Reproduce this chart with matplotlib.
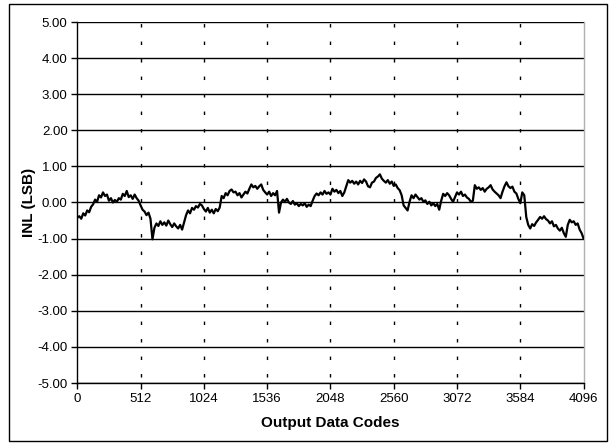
import numpy as np
import matplotlib
matplotlib.use("Agg")
import matplotlib.pyplot as plt
from matplotlib.patches import Rectangle

plt.rcParams['font.family'] = ['Liberation Sans', 'DejaVu Sans']

# Output data codes are sampled every 16 codes (0..4096)
code_step = 16
inl = [
    # 0 - 496
    -0.42, -0.38, -0.45, -0.30, -0.36, -0.22, -0.27, -0.12, -0.05, 0.08, 0.02, 0.20, 0.14, 0.28, 0.18, 0.22,
    0.05, 0.12, 0.00, 0.07, 0.02, 0.12, 0.08, 0.24, 0.18, 0.32, 0.15, 0.20, 0.10, 0.22, 0.12, 0.05,
    # 512 - 1008
    -0.08, -0.20, -0.25, -0.35, -0.28, -0.45, -1.02, -0.70, -0.58, -0.65, -0.52, -0.62, -0.55, -0.64, -0.50, -0.60,
    -0.68, -0.58, -0.66, -0.72, -0.62, -0.75, -0.55, -0.35, -0.22, -0.30, -0.15, -0.20, -0.10, -0.14, -0.04, -0.08,
    # 1024 - 1520
    -0.18, -0.25, -0.15, -0.28, -0.20, -0.30, -0.18, -0.24, -0.14, 0.18, 0.12, 0.26, 0.20, 0.32, 0.36, 0.28,
    0.30, 0.20, 0.26, 0.14, 0.22, 0.30, 0.25, 0.38, 0.50, 0.42, 0.46, 0.38, 0.45, 0.50, 0.35, 0.28,
    # 1536 - 2032
    0.22, 0.30, 0.18, 0.26, 0.20, 0.32, -0.28, 0.00, 0.08, 0.02, 0.10, 0.00, -0.04, 0.04, -0.06, -0.02,
    -0.10, -0.04, -0.08, -0.02, -0.12, -0.06, -0.10, 0.05, 0.18, 0.25, 0.20, 0.28, 0.22, 0.32, 0.24, 0.28,
    # 2048 - 2544
    0.22, 0.38, 0.30, 0.35, 0.26, 0.32, 0.18, 0.28, 0.45, 0.62, 0.55, 0.60, 0.52, 0.58, 0.50, 0.60,
    0.54, 0.64, 0.58, 0.45, 0.42, 0.55, 0.58, 0.68, 0.72, 0.78, 0.66, 0.60, 0.55, 0.62, 0.52, 0.58,
    # 2560 - 3056
    0.46, 0.50, 0.40, 0.34, 0.20, -0.08, -0.15, -0.22, 0.02, 0.20, 0.12, 0.22, 0.15, 0.08, 0.12, 0.02,
    0.06, -0.04, 0.02, -0.08, -0.02, -0.10, -0.04, -0.20, 0.05, 0.24, 0.18, 0.26, 0.20, 0.10, 0.02, 0.15,
    # 3072 - 3568
    0.28, 0.22, 0.30, 0.18, 0.22, 0.14, 0.10, 0.02, 0.05, 0.48, 0.38, 0.42, 0.35, 0.40, 0.30, 0.38,
    0.42, 0.48, 0.36, 0.30, 0.25, 0.20, 0.12, 0.30, 0.45, 0.56, 0.45, 0.40, 0.44, 0.30, 0.25, 0.10,
    # 3584 - 4096
    -0.02, 0.28, 0.20, -0.40, -0.62, -0.72, -0.60, -0.65, -0.55, -0.48, -0.40, -0.45, -0.38, -0.46, -0.50, -0.58,
    -0.52, -0.66, -0.62, -0.72, -0.78, -0.70, -0.85, -0.95, -0.62, -0.48, -0.55, -0.52, -0.62, -0.58, -0.75, -0.85,
    -1.00,
]
codes = np.arange(len(inl)) * code_step

x_ticks = [0, 512, 1024, 1536, 2048, 2560, 3072, 3584, 4096]
y_ticks = [-5, -4, -3, -2, -1, 0, 1, 2, 3, 4, 5]
x_label = "Output Data Codes"
y_label = "INL (LSB)"

W, H = 615, 444
fig = plt.figure(figsize=(W / 100, H / 100), dpi=100)
ax = fig.add_axes([77.3 / W, 1 - 383 / H, (583.6 - 77.3) / W, (383 - 22) / H])

# horizontal solid gridlines
for yv in y_ticks:
    ax.axhline(yv, color='black', lw=1.0, zorder=1)
# vertical dashed gridlines
for xv in x_ticks[1:-1]:
    ax.axvline(xv, color='black', lw=1.0, ls=(8.3, (2.5, 10.1)), zorder=1)

ax.plot(codes, inl, color='black', lw=1.6, zorder=3)

ax.set_xlim(0, 4096)
ax.set_ylim(-5, 5)
ax.set_xticks(x_ticks)
ax.set_xticklabels([str(v) for v in x_ticks])
ax.set_yticks(y_ticks)
ax.set_yticklabels([f"{v:.2f}" for v in y_ticks])
ax.tick_params(direction='out', length=4, width=1, colors='black', labelsize=9.5, pad=3)

for s in ['left', 'bottom']:
    ax.spines[s].set_color('black')
    ax.spines[s].set_linewidth(1.0)
ax.spines['top'].set_visible(False)
ax.spines['right'].set_color('#b0b0b0')
ax.spines['right'].set_linewidth(1.0)

ax.set_xlabel(x_label, fontsize=11, fontweight='bold', labelpad=8)
ax.set_ylabel(y_label, fontsize=11, fontweight='bold', labelpad=1)

# chart border
fig.patches.append(Rectangle((9 / W, 1 - 441 / H), (607 - 9) / W, (441 - 4) / H,
                             transform=fig.transFigure, fill=False, edgecolor='black', lw=1.0))

fig.savefig("out.png", dpi=100)
